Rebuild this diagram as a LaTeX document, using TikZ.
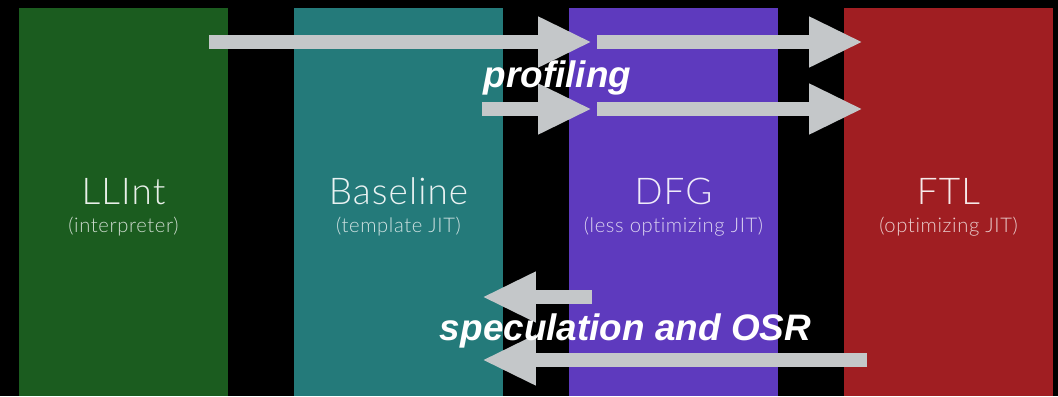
\documentclass[tikz,border=0pt]{standalone}
\usepackage{fontspec}
\setmainfont{Liberation Sans}
\newfontfamily\tierfont[Ligatures=NoCommon,LetterSpace=3]{Lato Light}
\usepackage{tikz}
\usetikzlibrary{arrows.meta}
\definecolor{llgreen}{RGB}{27,92,31}
\definecolor{blteal}{RGB}{36,122,122}
\definecolor{dfgpurple}{RGB}{94,58,190}
\definecolor{ftlred}{RGB}{160,30,34}
\definecolor{arrgray}{RGB}{196,199,201}
\tikzset{
  tier/.style={rectangle,inner sep=0pt,minimum width=4.18cm,minimum height=7.76cm},
  tiername/.style={anchor=base,font=\tierfont\fontsize{21}{24}\selectfont},
  tiersub/.style={anchor=base,font=\tierfont\fontsize{11.5}{13}\selectfont},
  flow/.style={draw=arrgray,line width=0.28cm,-{Triangle[length=1.08cm,width=0.94cm]}},
  flowlabel/.style={anchor=base,text=white,font=\fontsize{21}{24}\selectfont\bfseries\itshape}
}

\begin{document}
\begin{tikzpicture}[x=0.02cm,y=-0.02cm]
\fill[black] (0,0) rectangle (1058,396);
\node[tier,fill=llgreen] (llint) at (123.5,202) {};
\node[tier,fill=blteal] (baseline) at (398.5,202) {};
\node[tier,fill=dfgpurple] (dfg) at (673.5,202) {};
\node[tier,fill=ftlred] (ftl) at (948.5,202) {};
\node[tiername,text=white!90!llgreen] (llintname) at (123.5,204) {LLInt};
\node[tiersub,text=white!78!llgreen] (llintsub) at (123.5,232) {(interpreter)};
\node[tiername,text=white!90!blteal] (baselinename) at (398.5,204) {Baseline};
\node[tiersub,text=white!78!blteal] (baselinesub) at (398.5,232) {(template JIT)};
\node[tiername,text=white!90!dfgpurple] (dfgname) at (673.5,204) {DFG};
\node[tiersub,text=white!78!dfgpurple] (dfgsub) at (673.5,232) {(less optimizing JIT)};
\node[tiername,text=white!90!ftlred] (ftlname) at (948.5,204) {FTL};
\node[tiersub,text=white!78!ftlred] (ftlsub) at (948.5,232) {(optimizing JIT)};
\coordinate (p1s) at (209,42);
\coordinate (p1e) at (592,42);
\coordinate (p2s) at (597,42);
\coordinate (p2e) at (863,42);
\coordinate (p3s) at (482,109);
\coordinate (p3e) at (592,109);
\coordinate (p4s) at (597,109);
\coordinate (p4e) at (863,109);
\coordinate (s1s) at (592,297);
\coordinate (s1e) at (482,297);
\coordinate (s2s) at (867,360);
\coordinate (s2e) at (482,360);
\draw[flow] (p1s) -- (p1e);
\draw[flow] (p2s) -- (p2e);
\draw[flow] (p3s) -- (p3e);
\draw[flow] (p4s) -- (p4e);
\draw[flow] (s1s) -- (s1e);
\draw[flow] (s2s) -- (s2e);
\node[flowlabel] (profiling) at (557.5,87) {profiling};
\node[flowlabel] (speculation) at (625.5,340) {speculation and OSR};
\end{tikzpicture}
\end{document}
